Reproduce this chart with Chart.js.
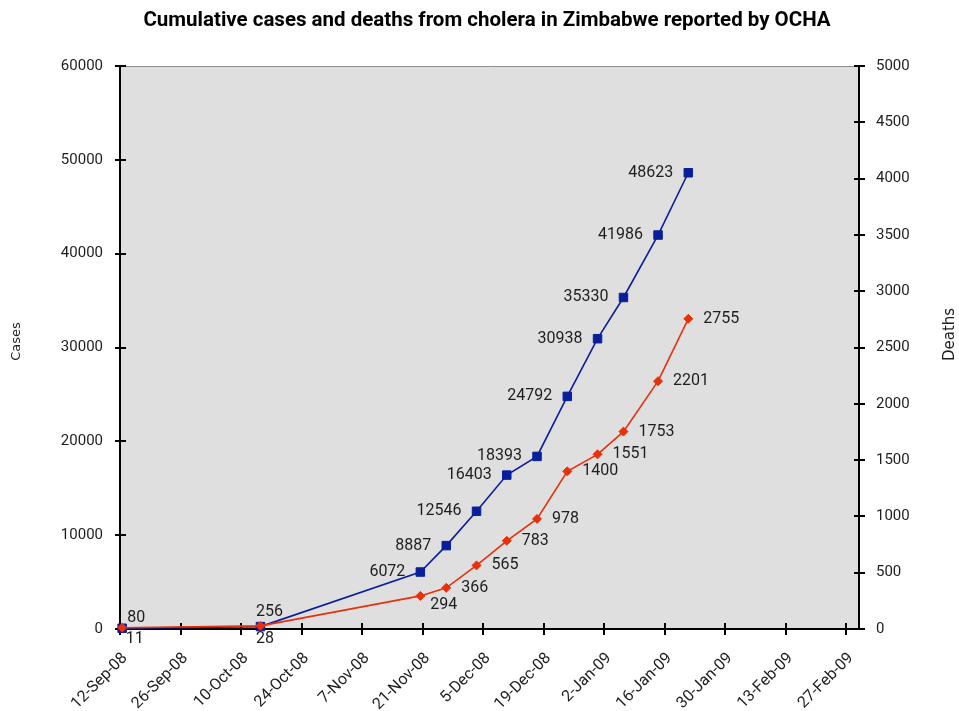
<!DOCTYPE html>
<html><head><meta charset="utf-8">
<script src="https://cdn.jsdelivr.net/npm/chart.js@4.4.1/dist/chart.umd.min.js"></script>
<style>html,body{margin:0;padding:0;background:#fff}#wrap{width:959px;height:711px}</style>
</head><body><div id="wrap"><canvas id="c" width="959" height="711"></canvas></div>
<script>
// ---- data ----
const reportDates = ['2008-09-12','2008-10-14','2008-11-20','2008-11-26','2008-12-03','2008-12-10','2008-12-17','2008-12-24','2008-12-31','2009-01-06','2009-01-14','2009-01-21'];
const cases  = [80, 256, 6072, 8887, 12546, 16403, 18393, 24792, 30938, 35330, 41986, 48623];
const deaths = [11, 28, 294, 366, 565, 783, 978, 1400, 1551, 1753, 2201, 2755];
const xTickDates  = ['2008-09-12','2008-09-26','2008-10-10','2008-10-24','2008-11-07','2008-11-21','2008-12-05','2008-12-19','2009-01-02','2009-01-16','2009-01-30','2009-02-13','2009-02-27'];
const xTickLabels = ['12-Sep-08','26-Sep-08','10-Oct-08','24-Oct-08','7-Nov-08','21-Nov-08','5-Dec-08','19-Dec-08','2-Jan-09','16-Jan-09','30-Jan-09','13-Feb-09','27-Feb-09'];
const xRange = ['2008-09-12','2009-03-02'];
const casesAxis  = {min: 0, max: 60000, step: 10000};
const deathsAxis = {min: 0, max: 5000, step: 500};
const titleText = 'Cumulative cases and deaths from cholera in Zimbabwe reported by OCHA';

// ---- helpers ----
const DAY = 86400000;
const toMs = d => Date.parse(d + 'T00:00:00Z');
const xTickValues = xTickDates.map(toMs);
const BLUE = '#0a1e9c', RED = '#e8300c';
const TXT = '#1e1e1e';
const FONT = 'Roboto';

const bgPlugin = {
  id: 'bg',
  beforeDraw(chart) {
    const {ctx, chartArea: a} = chart;
    ctx.save();
    ctx.fillStyle = '#dfdfdf';
    ctx.fillRect(a.left, a.top, a.right - a.left, a.bottom - a.top);
    ctx.strokeStyle = '#8c8c8c';
    ctx.lineWidth = 1;
    ctx.beginPath(); ctx.moveTo(a.left, a.top + 0.5); ctx.lineTo(a.right, a.top + 0.5); ctx.stroke();
    ctx.restore();
  },
  beforeDatasetsDraw(chart) {
    const {ctx, chartArea: a, scales} = chart;
    ctx.save();
    ctx.strokeStyle = '#000';
    ctx.lineWidth = 2;
    ctx.beginPath();
    scales.x.ticks.forEach(t => { const p = Math.round(scales.x.getPixelForValue(t.value)); ctx.moveTo(p, a.bottom - 6); ctx.lineTo(p, a.bottom + 6); });
    scales.y.ticks.forEach(t => { const p = Math.round(scales.y.getPixelForValue(t.value)); ctx.moveTo(a.left - 5, p); ctx.lineTo(a.left + 6, p); });
    scales.y1.ticks.forEach(t => { const p = Math.round(scales.y1.getPixelForValue(t.value)); ctx.moveTo(a.right - 5, p); ctx.lineTo(a.right + 6, p); });
    ctx.stroke();
    // axis titles (both read bottom-to-top)
    ctx.fillStyle = TXT;
    ctx.textAlign = 'center'; ctx.textBaseline = 'middle';
    const mid = (a.top + a.bottom) / 2;
    ctx.font = '13px "DejaVu Sans"';
    ctx.save(); ctx.translate(17, mid - 6); ctx.rotate(-Math.PI / 2); ctx.fillText('Cases', 0, 0); ctx.restore();
    ctx.font = '15px "DejaVu Sans"';
    ctx.save(); ctx.translate(a.right + 91, mid - 13); ctx.rotate(-Math.PI / 2); ctx.fillText('Deaths', 0, 0); ctx.restore();
    ctx.restore();
  }
};

const labelPlugin = {
  id: 'valueLabels',
  afterDatasetsDraw(chart, args, opts) {
    const {ctx} = chart;
    ctx.save();
    ctx.font = '16px ' + FONT;
    ctx.fillStyle = TXT;
    ctx.textBaseline = 'middle';
    chart.data.datasets.forEach((ds, di) => {
      const cfg = opts.sets[di];
      const meta = chart.getDatasetMeta(di);
      meta.data.forEach((pt, i) => {
        const o = Object.assign({}, cfg.def, cfg.over[i] || {});
        ctx.textAlign = o.align;
        ctx.fillText(String(cfg.values[i]), pt.x + o.dx, pt.y + o.dy);
      });
    });
    ctx.restore();
  }
};

const tickFont = {family: FONT, size: 15};
const plain = v => String(v);

new Chart(document.getElementById('c'), {
  type: 'line',
  data: {
    datasets: [
      {
        label: 'Cases', yAxisID: 'y', order: 2, clip: false,
        data: reportDates.map((d, i) => ({x: toMs(d) + DAY / 2, y: cases[i]})),
        borderColor: BLUE, backgroundColor: BLUE, borderWidth: 1.6,
        pointStyle: 'rect', pointRadius: 6, pointBorderWidth: 1, pointBorderColor: BLUE, pointBackgroundColor: BLUE,
        tension: 0
      },
      {
        label: 'Deaths', yAxisID: 'y1', order: 1, clip: false,
        data: reportDates.map((d, i) => ({x: toMs(d) + DAY / 2, y: deaths[i]})),
        borderColor: RED, backgroundColor: RED, borderWidth: 1.6,
        pointStyle: 'rectRot', pointRadius: 4.5, pointBorderWidth: 1, pointBorderColor: RED, pointBackgroundColor: RED,
        tension: 0
      }
    ]
  },
  options: {
    responsive: false, animation: false, events: [],
    layout: {padding: {left: 15, right: 0, top: 0, bottom: 0}},
    plugins: {
      legend: {display: false},
      tooltip: {enabled: false},
      title: {display: true, text: titleText, color: '#000',
        font: {family: FONT, size: 20.5, weight: 'bold'}, padding: {top: 9, bottom: 32.4}},
      valueLabels: {
        sets: [
          {values: cases, def: {dx: -15, dy: 0, align: 'right'},
           over: {0: {dx: 5, dy: -10, align: 'left'}, 1: {dx: 9, dy: -15, align: 'center'}}},
          {values: deaths, def: {dx: 15, dy: 0, align: 'left'},
           over: {0: {dx: 3.5, dy: 11.5, align: 'left'}, 1: {dx: 4.5, dy: 13, align: 'center'}, 2: {dx: 10, dy: 9, align: 'left'}}}
        ]
      }
    },
    scales: {
      x: {
        type: 'linear', bounds: 'data',
        min: toMs(xRange[0]), max: toMs(xRange[1]),
        afterBuildTicks: s => { s.ticks = xTickValues.map(v => ({value: v})); },
        ticks: {autoSkip: false, maxRotation: 45, minRotation: 45, color: TXT, font: {family: FONT, size: 16}, padding: 14, labelOffset: 5,
          callback: v => xTickLabels[xTickValues.indexOf(v)]},
        grid: {display: false, drawTicks: true, tickLength: 6},
        border: {display: true, color: '#000', width: 2},
        afterFit: s => { s.height = 82; }
      },
      y: {
        position: 'left', min: casesAxis.min, max: casesAxis.max,
        ticks: {stepSize: casesAxis.step, color: TXT, font: tickFont, padding: 12, callback: plain},
        grid: {display: false, drawTicks: true, tickLength: 5},
        border: {display: true, color: '#000', width: 2},
        afterFit: s => { s.width = 105; }
      },
      y1: {
        position: 'right', min: deathsAxis.min, max: deathsAxis.max,
        ticks: {stepSize: deathsAxis.step, color: TXT, font: tickFont, padding: 12, callback: plain},
        grid: {display: false, drawTicks: true, tickLength: 5},
        border: {display: true, color: '#000', width: 2},
        afterFit: s => { s.width = 100; }
      }
    }
  },
  plugins: [bgPlugin, labelPlugin]
});
</script>
</body></html>
